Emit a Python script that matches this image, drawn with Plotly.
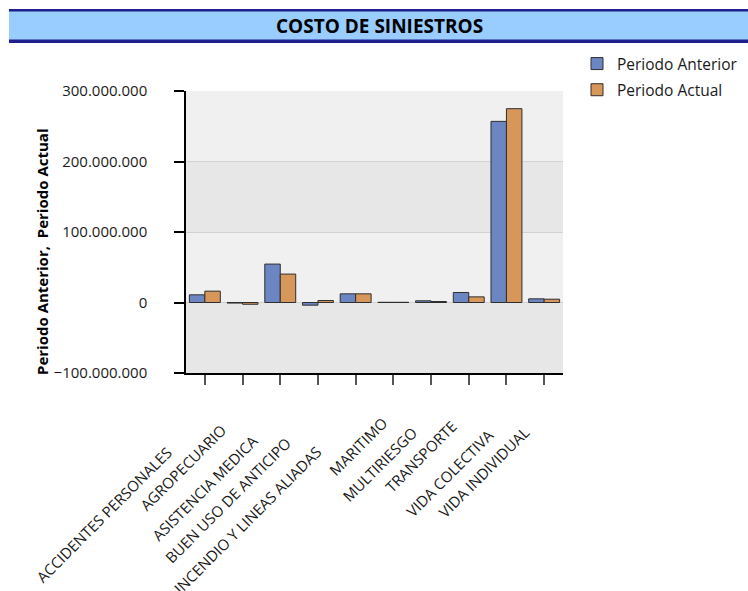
import plotly.graph_objects as go

# Lines of business and claim costs for each period
categorias = [
    "ACCIDENTES PERSONALES",
    "AGROPECUARIO",
    "ASISTENCIA MEDICA",
    "BUEN USO DE ANTICIPO",
    "INCENDIO Y LINEAS ALIADAS",
    "MARITIMO",
    "MULTIRIESGO",
    "TRANSPORTE",
    "VIDA COLECTIVA",
    "VIDA INDIVIDUAL",
]
periodo_anterior = [10_900_000, -800_000, 54_500_000, -3_800_000, 12_300_000,
                    300_000, 2_400_000, 14_200_000, 256_900_000, 5_200_000]
periodo_actual = [16_100_000, -2_500_000, 40_300_000, 2_800_000, 12_300_000,
                  300_000, 1_400_000, 8_000_000, 274_900_000, 4_700_000]
y_ticks = [-100_000_000, 0, 100_000_000, 200_000_000, 300_000_000]

# Page geometry (pixels)
W, H = 748, 591
M_L, M_R, M_T, M_B = 186, 185, 91, 218
PLOT_W = W - M_L - M_R
PLOT_H = H - M_T - M_B


def px_x(px):
    return (px - M_L) / PLOT_W


def px_y(py):
    return (H - M_B - py) / PLOT_H


# Shifts of the rotated category labels, in pixels from each tick
label_shift = [(-27, -67), (-9, -44), (-16, -55), (-20, -57), (-28, -66),
               (1, -37), (-7, -47), (-5, -40), (-6, -49), (-8, -47)]

fig = go.Figure()
fig.add_trace(go.Bar(
    name="Periodo Anterior", x=categorias, y=periodo_anterior,
    legendgroup="ant",
    marker=dict(color="#6C86C4", line=dict(color="#2E2E2E", width=1)),
))
fig.add_trace(go.Bar(
    name="Periodo Actual", x=categorias, y=periodo_actual,
    legendgroup="act",
    marker=dict(color="#D8975A", line=dict(color="#2E2E2E", width=1)),
))

shapes = []
# Alternating background bands between major ticks
for i in range(len(y_ticks) - 1):
    if i % 2 == 1:
        shapes.append(dict(type="rect", xref="paper", yref="y", x0=0, x1=1,
                           y0=y_ticks[i], y1=y_ticks[i + 1],
                           fillcolor="#F0F0F0", line=dict(width=0), layer="below"))

# Header band
shapes.append(dict(type="rect", xref="paper", yref="paper",
                   x0=px_x(9), x1=px_x(W + 2), y0=px_y(43), y1=px_y(9),
                   fillcolor="#99CCFF", line=dict(width=0), layer="below"))
shapes.append(dict(type="rect", xref="paper", yref="paper",
                   x0=px_x(9), x1=px_x(W + 2), y0=px_y(11.5), y1=px_y(9),
                   fillcolor="#1E1E8C", line=dict(width=0), layer="below"))
shapes.append(dict(type="rect", xref="paper", yref="paper",
                   x0=px_x(9), x1=px_x(W + 2), y0=px_y(43), y1=px_y(39.5),
                   fillcolor="#1E1E8C", line=dict(width=0), layer="below"))

annotations = [
    dict(text="<b>COSTO DE SINIESTROS</b>", xref="paper", yref="paper",
         x=px_x(379), y=px_y(26), xanchor="center", yanchor="middle",
         showarrow=False,
         font=dict(family="Open Sans", size=19, color="#000000")),
    dict(text="<b>Periodo Anterior,  Periodo Actual</b>", xref="paper", yref="paper",
         x=px_x(42), y=px_y(252), xanchor="center", yanchor="middle",
         textangle=-90, showarrow=False,
         font=dict(family="Open Sans", size=15, color="#000000")),
]
for cat, (dx, dy) in zip(categorias, label_shift):
    annotations.append(dict(
        text=cat, x=cat, xref="x", y=0, yref="paper",
        xanchor="right", yanchor="top", textangle=-45, showarrow=False,
        xshift=dx, yshift=dy,
        font=dict(family="Open Sans", size=15, color="#1A1A1A"),
    ))

fig.update_layout(
    width=W, height=H,
    margin=dict(l=M_L, r=M_R, t=M_T, b=M_B, pad=0, autoexpand=False),
    paper_bgcolor="#FFFFFF",
    plot_bgcolor="#E7E7E7",
    separators=",.",
    barmode="group",
    bargap=0.18,
    bargroupgap=0,
    showlegend=True,
    legend=dict(x=px_x(577), y=px_y(47), xanchor="left", yanchor="top",
                font=dict(family="Open Sans", size=15.5, color="#1A1A1A"),
                bgcolor="rgba(0,0,0,0)", tracegroupgap=3),
    shapes=shapes,
    annotations=annotations,
    xaxis=dict(
        type="category", range=[-0.5, len(categorias) - 0.5],
        showticklabels=False,
        showline=True, linecolor="#000000", linewidth=1.5,
        ticks="outside", ticklen=10, tickcolor="#555555", tickwidth=1.5,
        showgrid=False, fixedrange=True,
    ),
    yaxis=dict(
        range=[y_ticks[0], y_ticks[-1]], tickvals=y_ticks,
        tickformat=",.0f",
        showline=True, linecolor="#000000", linewidth=1.5,
        ticks="outside", ticklen=10, tickcolor="#000000", tickwidth=1.5,
        ticklabelstandoff=24,
        showgrid=True, gridcolor="#D2D2D2", gridwidth=1,
        zeroline=False,
        tickfont=dict(family="Open Sans", size=15, color="#1A1A1A"),
    ),
)

fig.write_html("out.html")
